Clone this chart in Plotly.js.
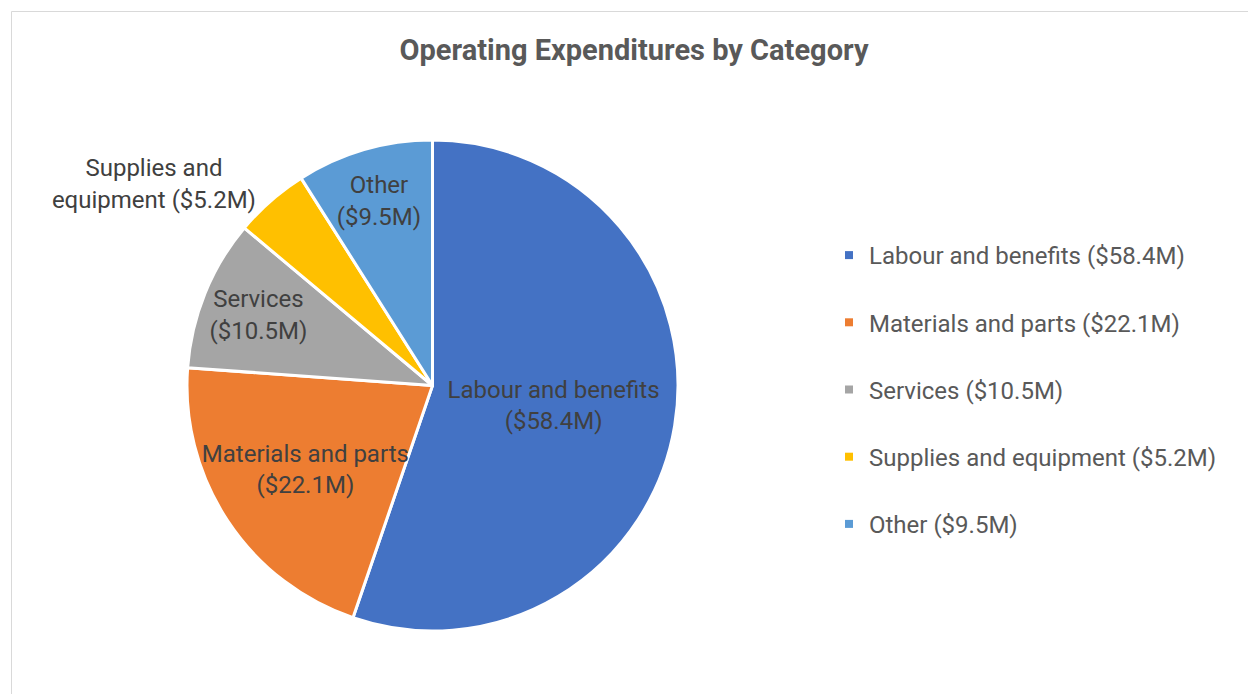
<!DOCTYPE html>
<html>
<head>
<meta charset="utf-8">
<script src="https://cdn.plot.ly/plotly-3.0.1.min.js"></script>
<style>
html,body{margin:0;padding:0;background:#fff;}
#chart{width:1248px;height:694px;}
</style>
</head>
<body>
<div id="chart"></div>
<script>
// ---- data ----
var categories = ["Labour and benefits", "Materials and parts", "Services", "Supplies and equipment", "Other"];
var values = [58.4, 22.1, 10.5, 5.2, 9.5];
var sliceNames = ["Labour and benefits", "Materials and parts", "Services", "Supplies and<br>equipment", "Other"];
var nameValueSep = ["<br>", "<br>", "<br>", " ", "<br>"];
var textPositions = ["inside", "inside", "inside", "outside", "inside"];
var colors = ["#4472C4", "#ED7D31", "#A5A5A5", "#FFC000", "#5B9BD5"];

function money(v) { return "($" + v.toFixed(1) + "M)"; }

var W = 1248, H = 694;
var cx = 432.5, cy = 385.5, R = 245.5;

var traces = [];
traces.push({
  type: "pie",
  labels: categories,
  values: values,
  text: sliceNames.map(function (n, i) { return n + nameValueSep[i] + money(values[i]); }),
  textinfo: "text",
  textposition: textPositions,
  insidetextorientation: "horizontal",
  sort: false,
  direction: "clockwise",
  rotation: 0,
  marker: { colors: colors, line: { color: "#ffffff", width: 3 } },
  textfont: { family: "Roboto, sans-serif", size: 24, color: "#404040" },
  domain: { x: [(cx - R) / W, (cx + R) / W], y: [(H - cy - R) / H, (H - cy + R) / H] },
  showlegend: false,
  hoverinfo: "label+value"
});

categories.forEach(function (c, i) {
  traces.push({
    type: "scatter",
    mode: "markers",
    x: [null], y: [null],
    name: c + " " + money(values[i]),
    legendgroup: "g" + i,
    marker: { symbol: "square", size: 8, color: colors[i] },
    showlegend: true,
    hoverinfo: "skip"
  });
});

var layout = {
  width: W, height: H,
  margin: { l: 0, r: 0, t: 0, b: 0 },
  paper_bgcolor: "#ffffff",
  plot_bgcolor: "rgba(0,0,0,0)",
  font: { family: "Roboto, sans-serif", color: "#595959" },
  uniformtext: { mode: "show", minsize: 24 },
  title: {
    text: "<b>Operating Expenditures by Category</b>",
    x: 634 / W, xanchor: "center",
    y: 1 - 50 / H, yanchor: "middle",
    font: { family: "Roboto, sans-serif", size: 29, color: "#595959" }
  },
  xaxis: { visible: false },
  yaxis: { visible: false },
  showlegend: true,
  legend: {
    x: (869 - 40) / W, xanchor: "left",
    y: 1 - 233 / H, yanchor: "top",
    font: { family: "Roboto, sans-serif", size: 24, color: "#595959" },
    tracegroupgap: 33,
    bgcolor: "rgba(0,0,0,0)"
  },
  shapes: [{
    type: "rect", xref: "paper", yref: "paper",
    x0: 11.5 / W, x1: 1.05, y0: -0.05, y1: 1 - 11.5 / H,
    line: { color: "#d9d9d9", width: 1 }, fillcolor: "rgba(0,0,0,0)", layer: "below"
  }]
};

Plotly.newPlot("chart", traces, layout, { staticPlot: true, displayModeBar: false });
</script>
</body>
</html>
